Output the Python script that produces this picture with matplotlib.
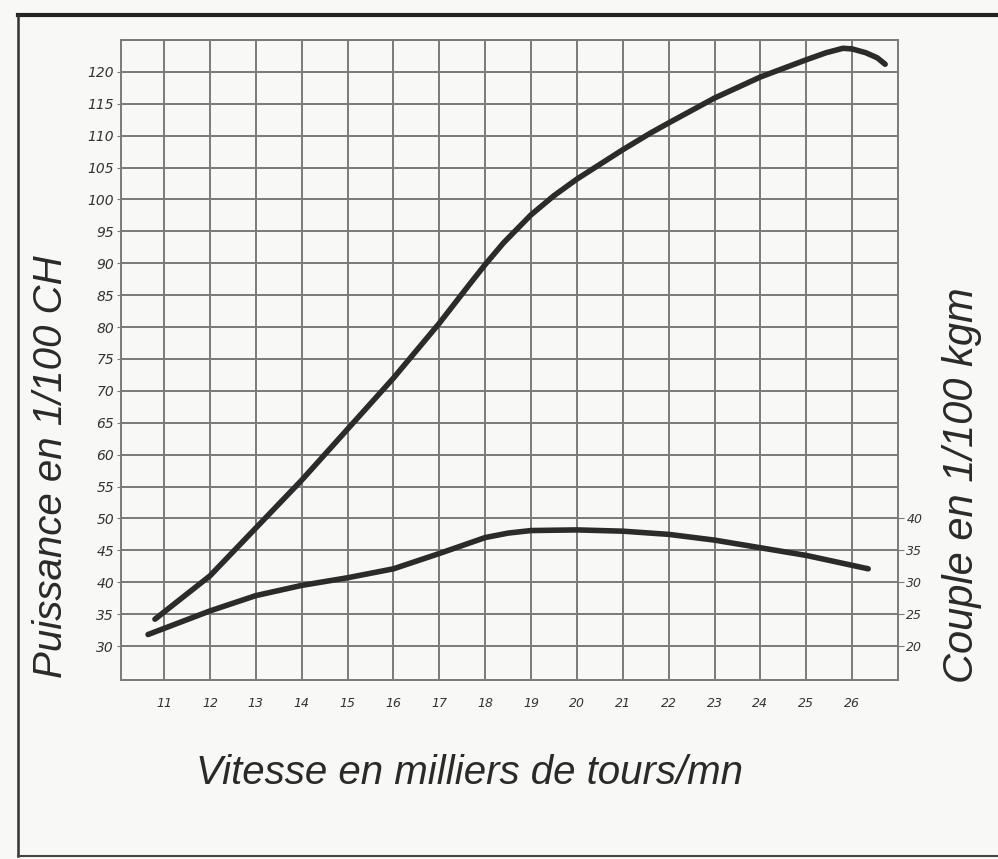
import matplotlib
matplotlib.use("Agg")
import matplotlib.pyplot as plt
from matplotlib.lines import Line2D

# vitesse (milliers de tours/mn) et puissance (1/100 CH)
rpm_power = [10.8, 12, 13, 14, 15, 16, 17, 17.67, 18, 18.4, 19, 19.5, 20, 21, 21.6, 22, 23, 24,
             25, 25.43, 25.8, 26, 26.3, 26.55, 26.72]
power = [34.2, 41.0, 48.5, 56.0, 64.0, 72.0, 80.6, 86.8, 89.8, 93.2, 97.6, 100.6, 103.2, 107.8, 110.4, 112.0, 115.9, 119.2,
         121.9, 123.0, 123.7, 123.6, 123.0, 122.2, 121.2]

# couple (1/100 kgm)
rpm_torque = [10.65, 12, 13, 14, 15, 16, 17, 18, 18.5, 19, 20, 21, 22, 23, 24, 25, 26.35]
torque = [21.8, 25.5, 27.9, 29.5, 30.7, 32.1, 34.5, 37.0, 37.7, 38.1, 38.2, 38.0, 37.5, 36.6, 35.4, 34.2, 32.1]

x_ticks = list(range(11, 27))
power_ticks = list(range(30, 125, 5))
torque_ticks = list(range(20, 45, 5))

grid_col = "#7a7a7a"
ink = "#2b2b2b"

fig = plt.figure(figsize=(9.98, 8.59), dpi=100)
fig.patch.set_facecolor("#f8f8f6")

ax = fig.add_axes([121 / 998, 1 - 680 / 859, (898 - 121) / 998, (680 - 40) / 859])
ax.set_facecolor("#f8f8f6")
ax.set_xlim(10.06, 27.0)
ax.set_ylim(24.67, 125.0)

for xv in x_ticks:
    ax.axvline(xv, color=grid_col, lw=1.4, zorder=1)
for yv in power_ticks + [125]:
    ax.axhline(yv, color=grid_col, lw=1.4, zorder=1)

for s in ax.spines.values():
    s.set_color(grid_col)
    s.set_linewidth(1.4)

ax.plot(rpm_power, power, color=ink, lw=4, solid_capstyle="round", solid_joinstyle="round", zorder=3)

ax.set_xticks(x_ticks)
ax.set_xticklabels([str(v) for v in x_ticks], fontstyle="italic", fontsize=9, color="#333333")
ax.set_yticks(power_ticks)
ax.set_yticklabels([str(v) for v in power_ticks], fontstyle="italic", fontsize=10, color="#333333")
ax.tick_params(axis="x", length=0, pad=12)
ax.tick_params(axis="y", length=3, color=grid_col, pad=2)

ax2 = ax.twinx()
ax2.set_ylim(24.67 - 10, 125.0 - 10)
ax2.plot(rpm_torque, torque, color=ink, lw=4, solid_capstyle="round", solid_joinstyle="round", zorder=3)
ax2.set_yticks(torque_ticks)
ax2.set_yticklabels([str(v) for v in torque_ticks], fontstyle="italic", fontsize=9, color="#333333")
ax2.tick_params(axis="y", length=4, color=grid_col, pad=2)
for s in ax2.spines.values():
    s.set_visible(False)

lab = dict(family="Liberation Sans", fontstyle="italic", color="#2a2a2a")
fig.text(51 / 998, 1 - 467 / 859, "Puissance en 1/100 CH", rotation=90,
         ha="center", va="center", fontsize=29, **lab)
fig.text(962 / 998, 1 - 485 / 859, "Couple en 1/100 kgm", rotation=90,
         ha="center", va="center", fontsize=30, **lab)
fig.text(470 / 998, 1 - 773 / 859, "Vitesse en milliers de tours/mn",
         ha="center", va="center", fontsize=29, **lab)

# cadre de la page scannee
fig.add_artist(Line2D([18 / 998, 1.0], [1 - 15 / 859, 1 - 15 / 859], transform=fig.transFigure,
                      color="#222222", lw=3))
fig.add_artist(Line2D([18 / 998, 18 / 998], [1 - 15 / 859, 1 - 856 / 859], transform=fig.transFigure,
                      color="#333333", lw=1.8))
fig.add_artist(Line2D([18 / 998, 1.0], [1 - 856 / 859, 1 - 856 / 859], transform=fig.transFigure,
                      color="#444444", lw=1.5))

fig.savefig("out.png", dpi=100, facecolor=fig.get_facecolor())
